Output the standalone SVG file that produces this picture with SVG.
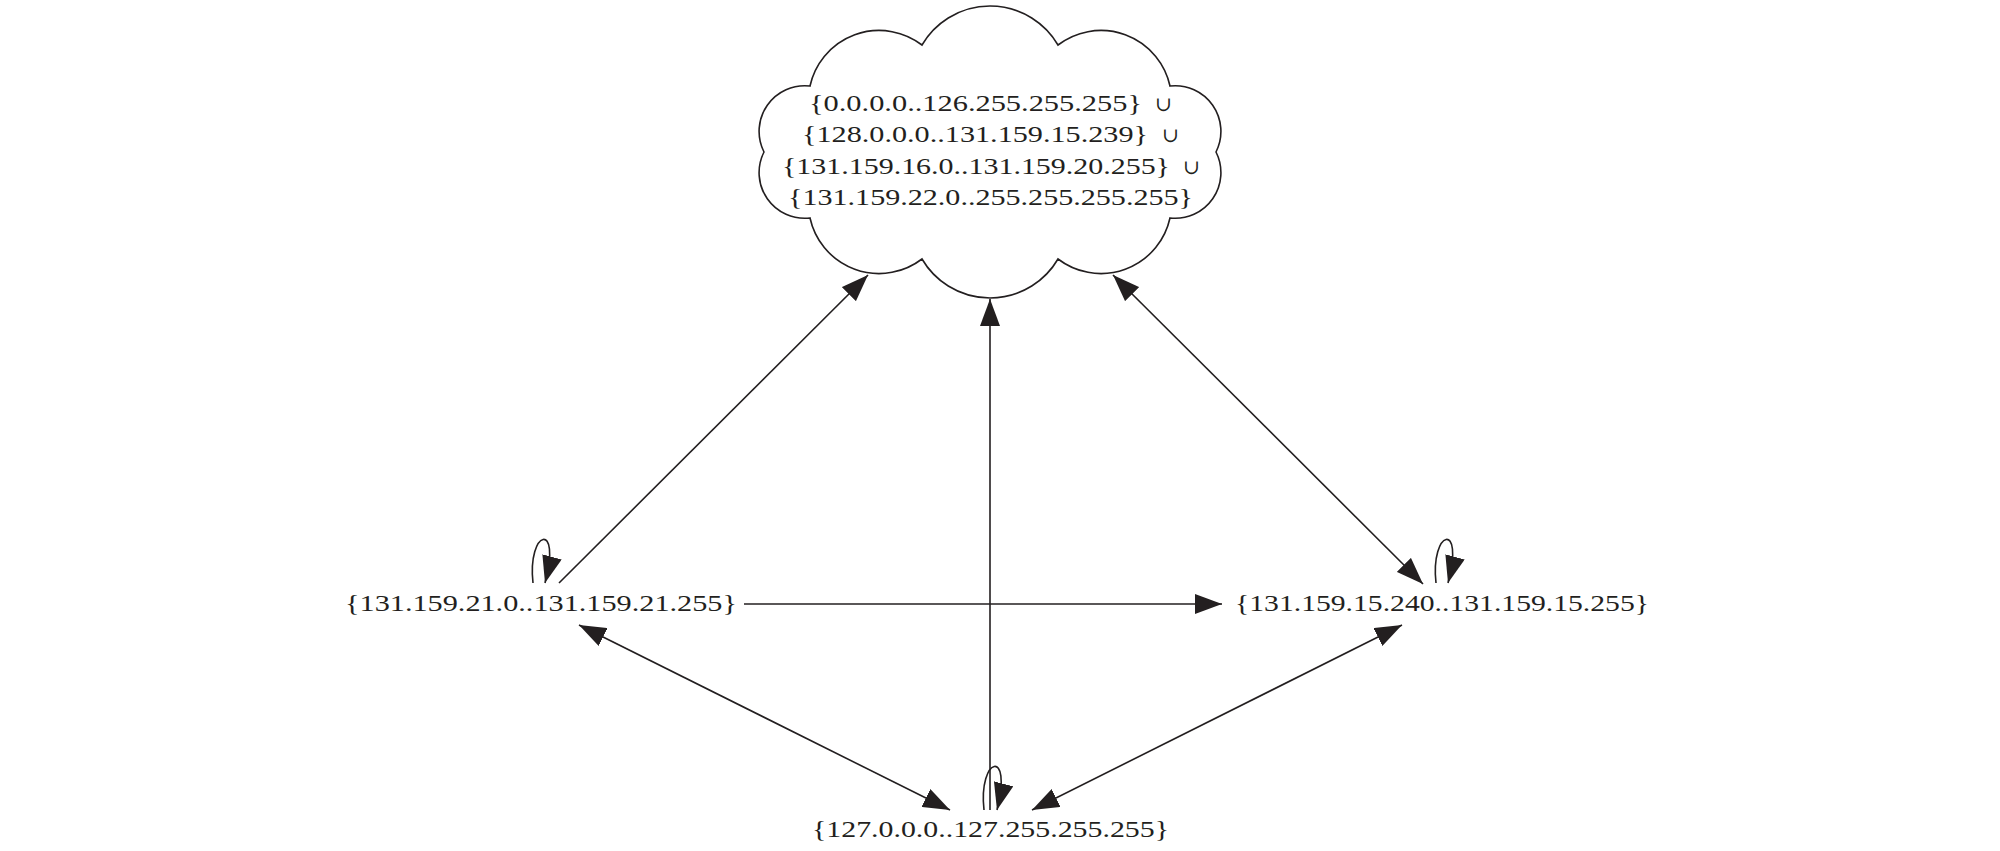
<svg xmlns="http://www.w3.org/2000/svg" width="2000" height="851" viewBox="0 0 2000 851">
  <style>
    .lbl { font-family: "Liberation Serif", "DejaVu Serif", serif; font-size: 23px; fill: #231f20; }
    .op { font-family: "DejaVu Serif", "DejaVu Sans", serif; font-size: 20px; fill: #231f20; }
    .edge { fill: none; stroke: #231f20; stroke-width: 1.6; }
    .cloud { fill: #ffffff; stroke: #231f20; stroke-width: 1.6; }
  </style>
  <defs>
    <marker id="ah" viewBox="0 0 27 20" refX="27" refY="10" markerWidth="27" markerHeight="20" markerUnits="userSpaceOnUse" orient="auto-start-reverse">
      <path d="M0,0 L27,10 L0,20 z" fill="#231f20"/>
    </marker>
  </defs>
  <rect width="2000" height="851" fill="#ffffff"/>

  <!-- connectors -->
  <g id="connectors" class="edges">
    <path class="edge" d="M559,583 L868,275" marker-end="url(#ah)"/>
    <path class="edge" d="M990,810 L990,299" marker-end="url(#ah)"/>
    <path class="edge" d="M1113,275 L1423,584" marker-start="url(#ah)" marker-end="url(#ah)"/>
    <path class="edge" d="M744,604 L1222,604" marker-end="url(#ah)"/>
    <path class="edge" d="M579,625 L950,810" marker-start="url(#ah)" marker-end="url(#ah)"/>
    <path class="edge" d="M1402,625 L1032,810" marker-start="url(#ah)" marker-end="url(#ah)"/>
    <!-- self loops -->
    <path class="edge" d="M533,583 C527,530 562,520 545,583" marker-end="url(#ah)"/>
    <path class="edge" d="M1436,583 C1430,530 1465,520 1448,583" marker-end="url(#ah)"/>
    <path class="edge" d="M984,810 C978,757 1013,747 997,810" marker-end="url(#ah)"/>
  </g>

  <!-- cloud node: the rest of the address space -->
  <g id="node-rest">
    <path class="cloud" d="M922,45 A78.8,78.8 0 0 1 1058,45 A70.7,70.7 0 0 1 1170,86 A45.7,45.7 0 0 1 1216,152 A45.7,45.7 0 0 1 1170,218 A70.7,70.7 0 0 1 1058,259 A78.8,78.8 0 0 1 922,259 A70.7,70.7 0 0 1 810,218 A45.7,45.7 0 0 1 764,152 A45.7,45.7 0 0 1 810,86 A70.7,70.7 0 0 1 922,45 Z"/>
    <text class="lbl" x="809" y="110.5" textLength="333" lengthAdjust="spacingAndGlyphs">{0.0.0.0..126.255.255.255}</text>
    <text class="op" x="1155" y="110.5" textLength="17" lengthAdjust="spacingAndGlyphs">∪</text>
    <text class="lbl" x="802" y="142" textLength="346" lengthAdjust="spacingAndGlyphs">{128.0.0.0..131.159.15.239}</text>
    <text class="op" x="1162" y="142" textLength="17" lengthAdjust="spacingAndGlyphs">∪</text>
    <text class="lbl" x="782" y="173.5" textLength="388" lengthAdjust="spacingAndGlyphs">{131.159.16.0..131.159.20.255}</text>
    <text class="op" x="1183" y="173.5" textLength="17" lengthAdjust="spacingAndGlyphs">∪</text>
    <text class="lbl" x="788" y="205" textLength="405" lengthAdjust="spacingAndGlyphs">{131.159.22.0..255.255.255.255}</text>
  </g>

  <g id="node-21">
    <text class="lbl" x="345" y="611" textLength="392" lengthAdjust="spacingAndGlyphs">{131.159.21.0..131.159.21.255}</text>
  </g>

  <g id="node-15">
    <text class="lbl" x="1235" y="611" textLength="414" lengthAdjust="spacingAndGlyphs">{131.159.15.240..131.159.15.255}</text>
  </g>

  <g id="node-127">
    <text class="lbl" x="812" y="837" textLength="357" lengthAdjust="spacingAndGlyphs">{127.0.0.0..127.255.255.255}</text>
  </g>
</svg>
